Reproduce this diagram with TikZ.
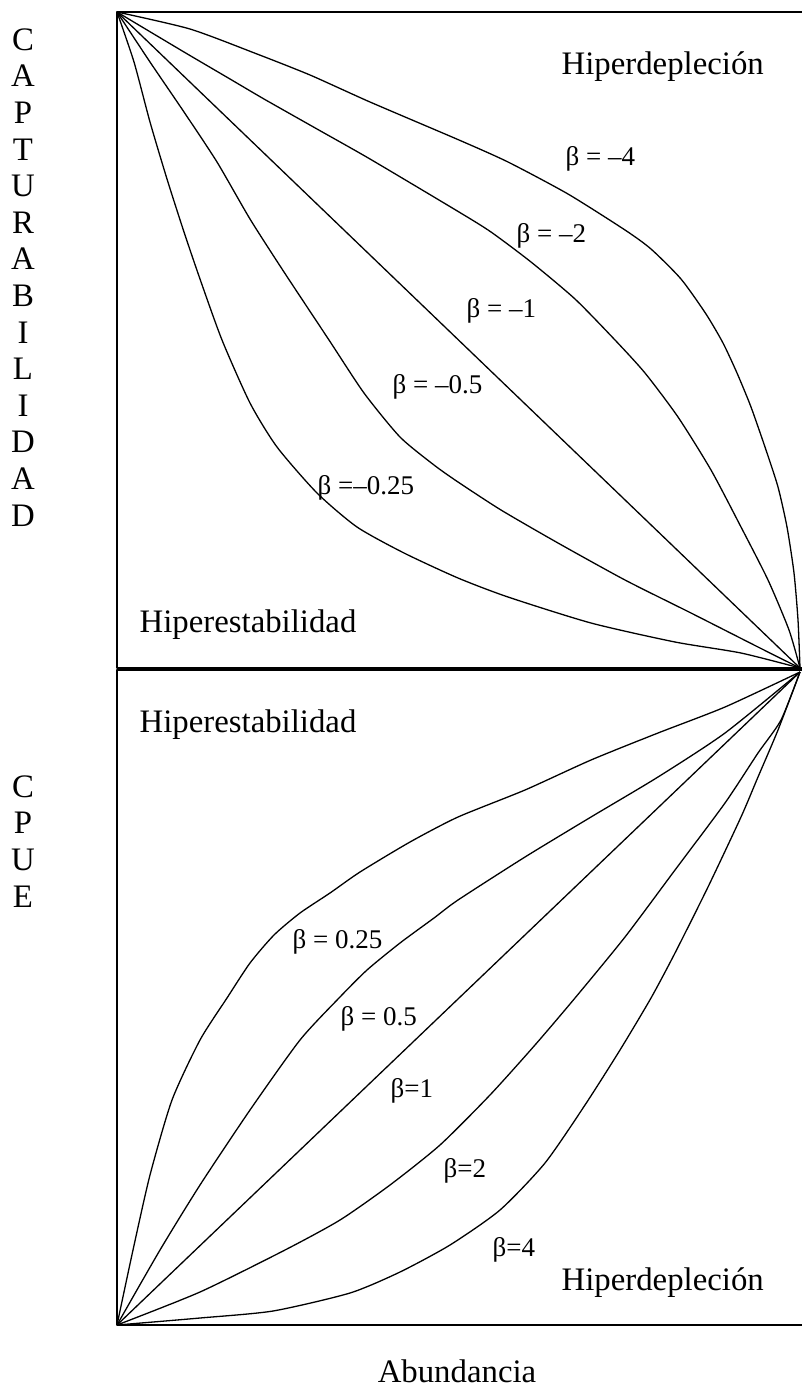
\documentclass[tikz,border=0pt]{standalone}
\usepackage{fontspec}
\setmainfont{Liberation Serif}
\begin{document}
\begin{tikzpicture}[x=1pt,y=-1pt,line width=1.3pt,line join=round,
        every node/.style={inner sep=0pt,font=\fontsize{32.8}{36.6}\selectfont},
        lbl/.style={anchor=base west},
        beta/.style={anchor=base west,font=\fontsize{27}{30}\selectfont},
        vert/.style={anchor=north,align=center},
        curve/.style={smooth,tension=0.4}]
        \useasboundingbox (0,0) rectangle (801,1395);
        \draw (117,12) rectangle (803,668);
        \draw (117,670) rectangle (803,1325);
        \draw plot[curve] coordinates {(117,12) (190,29) (257,54) (310,75) (370,102) (459,140) (508,162) (568,194) (625,230) (651,249) (681,279) (706,314) (723,343) (737,373) (751,407) (766,450) (778,487) (787,527) (794,573) (798,620) (800,668)};
        \draw plot[curve] coordinates {(117,12) (184,52) (230,79) (264,99) (317,129) (370,159) (459,212) (491,232) (531,262) (575,299) (615,340) (645,373) (678,417) (711,470) (741,527) (768,580) (789,630) (800,668)};
        \draw (117,12) -- (800,668);
        \draw plot[curve] coordinates {(117,12) (150,62) (184,112) (217,162) (250,219) (284,272) (329,340) (364,393) (400,437) (434,465) (458,482) (501,510) (558,543) (625,580) (691,613) (758,647) (800,668)};
        \draw plot[curve] coordinates {(117,12) (134,62) (150,122) (167,179) (184,232) (200,279) (222,340) (250,403) (277,447) (317,493) (357,527) (404,553) (458,578) (508,597) (591,623) (675,642) (741,653) (800,668)};
        \draw plot[curve] coordinates {(117,1325) (133,1250) (150,1175) (172,1100) (200,1040) (227,998) (250,963) (274,935) (300,913) (330,893) (360,872) (410,842) (458,817) (525,790) (591,760) (658,733) (725,707) (800,672)};
        \draw plot[curve] coordinates {(117,1325) (160,1250) (200,1185) (250,1110) (300,1040) (339,998) (367,970) (400,943) (434,918) (458,900) (525,857) (591,817) (658,777) (725,733) (800,672)};
        \draw (117,1325) -- (800,672);
        \draw plot[curve] coordinates {(117,1325) (200,1292) (285,1250) (340,1220) (390,1185) (440,1145) (490,1095) (535,1045) (575,998) (625,937) (675,870) (725,803) (758,753) (781,720) (800,672)};
        \draw plot[curve] coordinates {(117,1325) (200,1318) (273,1311) (350,1293) (400,1272) (450,1245) (500,1210) (545,1163) (585,1105) (620,1050) (651,998) (675,953) (708,887) (741,817) (758,777) (778,730) (800,672)};
        \node[lbl] (hdtop) at (561,74) {Hiperdepleción};
        \node[lbl] (hetop) at (139,632) {Hiperestabilidad};
        \node[lbl] (hebot) at (139,732) {Hiperestabilidad};
        \node[lbl] (hdbot) at (561,1290) {Hiperdepleción};
        \node[beta] (bm4) at (565,165) {β = –4};
        \node[beta] (bm2) at (516,242) {β = –2};
        \node[beta] (bm1) at (466,317) {β = –1};
        \node[beta] (bm05) at (392,393) {β = –0.5};
        \node[beta] (bm025) at (317,494) {β =–0.25};
        \node[beta] (bp025) at (292,948) {β = 0.25};
        \node[beta] (bp05) at (340,1025) {β = 0.5};
        \node[beta] (bp1) at (390,1097) {β=1};
        \node[beta] (bp2) at (443,1177) {β=2};
        \node[beta] (bp4) at (492,1256) {β=4};
        \node[vert] (capt) at (23,28) {C\\A\\P\\T\\U\\R\\A\\B\\I\\L\\I\\D\\A\\D};
        \node[vert] (cpue) at (23,775) {C\\P\\U\\E};
        \node[lbl,anchor=base] (abund) at (457,1382) {Abundancia};
\end{tikzpicture}
\end{document}
